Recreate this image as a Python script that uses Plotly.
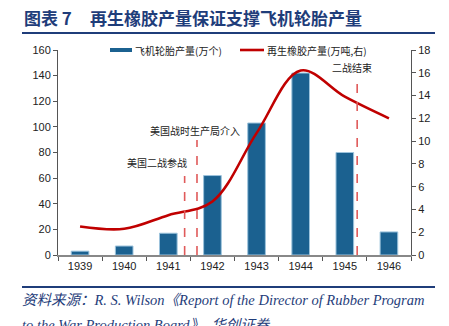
import plotly.graph_objects as go

years = ["1939", "1940", "1941", "1942", "1943", "1944", "1945", "1946"]
tires = [3, 7, 17, 62, 103, 142, 80, 18]          # 飞机轮胎产量(万个)
rubber = [2.5, 2.3, 3.5, 4.7, 10.7, 16.2, 13.9, 12.0]  # 再生橡胶产量(万吨)
series_names = ["飞机轮胎产量(万个)", "再生橡胶产量(万吨,右)"]

events = ["美国二战参战", "美国战时生产局介入", "二战结束"]
event_pos = [2.37, 2.65, 6.28]        # category-index positions
event_top = [61.7, 89.8, 136.7]       # left-axis units
label_pos = [(1.75, 72), (2.61, 97.5), (6.17, 146)]

W, H = 449, 326
X0, X1, Y0, Y1 = 58, 411, 50, 255

def px2x(p):
    return (p - X0) / (X1 - X0)

def px2y(p):
    return (Y1 - p) / (Y1 - Y0)

BLUE = "#1b6190"
RED = "#c00000"
NAVY = "#1f3d7a"
CJK = "Noto Sans CJK SC"
TICKF = dict(family="Liberation Sans, Arial", size=11, color="#222")

fig = go.Figure()
fig.add_trace(go.Bar(
    x=years, y=tires, name=series_names[0],
    marker=dict(color=BLUE, line=dict(color="#9cc3dc", width=1)),
    yaxis="y", showlegend=False,
))
fig.add_trace(go.Scatter(
    x=years, y=rubber, name=series_names[1], mode="lines",
    line=dict(color=RED, width=2.6, shape="spline", smoothing=1.0),
    yaxis="y2", showlegend=False,
))

shapes = []
for xp, top in zip(event_pos, event_top):
    shapes.append(dict(type="line", xref="x", yref="y", x0=xp, x1=xp, y0=0, y1=top,
                       line=dict(color="#e05a5a", width=1.6, dash="dash")))
# title underline and footer line
shapes.append(dict(type="line", xref="paper", yref="paper", x0=px2x(22), x1=px2x(435),
                   y0=px2y(33), y1=px2y(33), line=dict(color=NAVY, width=2)))
shapes.append(dict(type="line", xref="paper", yref="paper", x0=px2x(22), x1=px2x(435),
                   y0=px2y(287), y1=px2y(287), line=dict(color=NAVY, width=2)))
# legend symbols
shapes.append(dict(type="rect", xref="paper", yref="paper", x0=px2x(110), x1=px2x(132),
                   y0=px2y(52), y1=px2y(48), fillcolor=BLUE, line=dict(width=0)))
shapes.append(dict(type="line", xref="paper", yref="paper", x0=px2x(240), x1=px2x(264),
                   y0=px2y(50), y1=px2y(50), line=dict(color=RED, width=2.6)))

annotations = []
for txt, (xp, yv) in zip(events, label_pos):
    annotations.append(dict(text=txt, x=xp, y=yv, xref="x", yref="y", showarrow=False,
                            font=dict(family=CJK, size=10, color="#222"),
                            xanchor="center", yanchor="middle"))
# legend texts
for txt, xl in zip(series_names, [133, 265]):
    annotations.append(dict(text=txt, x=px2x(xl), y=px2y(50), xref="paper", yref="paper",
                            showarrow=False, xanchor="left", yanchor="middle",
                            font=dict(family=CJK, size=10, color="#222")))
annotations.append(dict(text="<b>图表 7</b>",
                        x=px2x(22), y=px2y(17), xref="paper", yref="paper", showarrow=False,
                        xanchor="left", yanchor="middle",
                        font=dict(family=CJK, size=17, color=NAVY)))
annotations.append(dict(text="<b>再生橡胶产量保证支撑飞机轮胎产量</b>",
                        x=px2x(88), y=px2y(17), xref="paper", yref="paper", showarrow=False,
                        xanchor="left", yanchor="middle",
                        font=dict(family=CJK, size=17, color=NAVY)))
annotations.append(dict(text="<i>资料来源：R. S. Wilson《Report of the Director of Rubber Program</i>",
                        x=px2x(20), y=px2y(300), xref="paper", yref="paper", showarrow=False,
                        xanchor="left", yanchor="middle",
                        font=dict(family="Liberation Serif, " + CJK, size=14.5, color=NAVY)))
annotations.append(dict(text="<i>to the War Production Board》，华创证券</i>",
                        x=px2x(20), y=px2y(325), xref="paper", yref="paper", showarrow=False,
                        xanchor="left", yanchor="middle",
                        font=dict(family="Liberation Serif, " + CJK, size=14.5, color=NAVY)))

fig.update_layout(
    width=W, height=H,
    margin=dict(l=X0, r=W - X1, t=Y0, b=H - Y1, pad=0),
    paper_bgcolor="white", plot_bgcolor="white",
    bargap=0.6,
    showlegend=False,
    xaxis=dict(type="category", range=[-0.5, 7.5], tickson="boundaries", ticks="outside",
               ticklen=4, tickcolor="#555", showline=True, linecolor="#888", linewidth=1.5,
               showgrid=False, tickfont=TICKF),
    yaxis=dict(range=[0, 160], dtick=20, ticks="outside", ticklen=4, tickcolor="#555",
               showline=True, linecolor="#555", linewidth=1, showgrid=False, zeroline=False,
               tickfont=TICKF),
    yaxis2=dict(range=[0, 18], dtick=2, overlaying="y", side="right", ticks="outside",
                ticklen=4, tickcolor="#555", showline=True, linecolor="#555", linewidth=1,
                showgrid=False, zeroline=False, tickfont=TICKF),
    shapes=shapes,
    annotations=annotations,
)

fig.write_html("out.html")
